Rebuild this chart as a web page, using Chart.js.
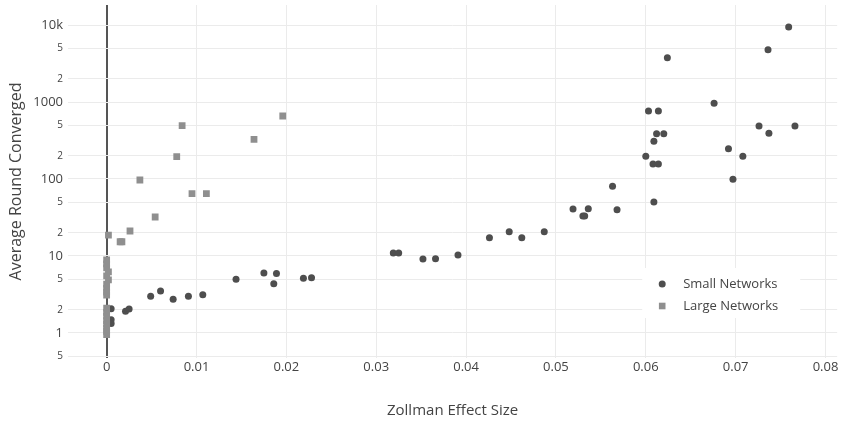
<!DOCTYPE html>
<html>
<head>
<meta charset="utf-8">
<script src="https://cdn.jsdelivr.net/npm/chart.js@4/dist/chart.umd.min.js"></script>
<style>
  html, body { margin: 0; padding: 0; background: #fff; }
  #wrap { width: 842px; height: 424px; position: relative; }
</style>
</head>
<body>
<div id="wrap"><canvas id="chart"></canvas></div>
<script>
// Small networks (circles)
var smallX = [0.0005, 0.0005, 0.0005, 0.0021, 0.0025, 0.0049, 0.0060, 0.0074, 0.0091, 0.0107,
  0.0144, 0.0175, 0.0189, 0.0186, 0.0219, 0.0228, 0.0319, 0.0325, 0.0352, 0.0366,
  0.0391, 0.0426, 0.0448, 0.0462, 0.0487, 0.0519, 0.0530, 0.0532, 0.0536, 0.0563,
  0.0568, 0.0609, 0.0697, 0.0759, 0.0736, 0.0624, 0.0676, 0.0603, 0.0614, 0.0726,
  0.0766, 0.0737, 0.0612, 0.0620, 0.0609, 0.0692, 0.0600, 0.0708, 0.0608, 0.0614];
var smallY = [2.07, 1.48, 1.33, 1.91, 2.05, 3.0, 3.5, 2.74, 3.0, 3.14,
  5.0, 6.0, 5.9, 4.37, 5.13, 5.22, 10.9, 10.9, 9.14, 9.2,
  10.3, 17.3, 20.7, 17.3, 20.7, 40.8, 33, 33, 41.2, 80.4,
  39.9, 50.3, 99, 9420, 4780, 3760, 962, 764, 764, 488,
  488, 392, 387, 387, 309, 248, 197, 197, 157, 157];

// Large networks (squares)
var largeX = [0.0084, 0.0196, 0.0164, 0.0078, 0.0037, 0.0095, 0.0111, 0.0054, 0.0026, 0.0015,
  0.0017, 0.0002, 0, 0, 0, 0.0002, 0, 0.0002, 0, 0,
  0, 0, 0, 0, 0, 0, 0, 0, 0, 0];
var largeY = [492, 658, 328, 195, 97, 64.4, 64.4, 32.1, 21.1, 15.3,
  15.3, 18.7, 8.9, 7.9, 7.0, 6.2, 5.5, 4.9, 4.3, 3.8,
  3.4, 3.1, 2.1, 1.85, 1.65, 1.45, 1.3, 1.15, 1.05, 0.95];

var xTicks = [0, 0.01, 0.02, 0.03, 0.04, 0.05, 0.06, 0.07, 0.08];
var xTickLabels = ['0', '0.01', '0.02', '0.03', '0.04', '0.05', '0.06', '0.07', '0.08'];
var yTicks = [0.5, 1, 2, 5, 10, 20, 50, 100, 200, 500, 1000, 2000, 5000, 10000];
var yTickLabels = ['5', '1', '2', '5', '10', '2', '5', '100', '2', '5', '1000', '2', '5', '10k'];

var legendNames = ['Small Networks', 'Large Networks'];
var smallColor = '#4e4e4e';
var largeColor = '#8f8f8f';

function toPoints(xs, ys) {
  return xs.map(function (x, i) { return { x: x, y: ys[i] }; });
}

var insideLegend = {
  id: 'insideLegend',
  afterDraw: function (chart) {
    var ctx = chart.ctx;
    var a = chart.chartArea;
    var left = a.right - 195;
    var top = 268;
    ctx.save();
    ctx.fillStyle = '#fff';
    ctx.fillRect(left, top, 158, 50);
    // circle
    ctx.fillStyle = smallColor;
    ctx.beginPath();
    ctx.arc(left + 20, top + 16, 3.5, 0, Math.PI * 2);
    ctx.fill();
    // square
    ctx.fillStyle = largeColor;
    ctx.fillRect(left + 20 - 3.3, top + 38 - 3.3, 6.6, 6.6);
    ctx.fillStyle = '#444';
    ctx.font = '13px "Open Sans"';
    ctx.textBaseline = 'middle';
    ctx.fillText(legendNames[0], left + 41, top + 16);
    ctx.fillText(legendNames[1], left + 41, top + 38);
    ctx.restore();
  }
};

new Chart(document.getElementById('chart'), {
  type: 'scatter',
  data: {
    datasets: [
      {
        label: legendNames[0],
        data: toPoints(smallX, smallY),
        pointStyle: 'circle',
        pointRadius: 3.5,
        pointBorderWidth: 0,
        backgroundColor: smallColor,
        borderColor: smallColor,
        order: 2
      },
      {
        label: legendNames[1],
        data: toPoints(largeX, largeY),
        pointStyle: 'rect',
        pointRadius: 4.8,
        pointBorderWidth: 0,
        backgroundColor: largeColor,
        borderColor: largeColor,
        order: 1
      }
    ]
  },
  options: {
    responsive: true,
    maintainAspectRatio: false,
    animation: false,
    layout: { padding: { top: 5, right: 1, left: 0, bottom: 0 } },
    plugins: {
      legend: { display: false },
      tooltip: { enabled: false }
    },
    scales: {
      x: {
        type: 'linear',
        min: -0.0043,
        max: 0.0813,
        afterBuildTicks: function (scale) {
          scale.ticks = xTicks.map(function (v) { return { value: v }; });
        },
        afterFit: function (scale) {
          scale.height = 66;
          scale.paddingLeft = 0;
          scale.paddingRight = 0;
        },
        border: { display: false },
        grid: {
          drawTicks: false,
          color: function (ctx) { return ctx.tick && ctx.tick.value === 0 ? '#555' : '#ebebeb'; },
          lineWidth: function (ctx) { return ctx.tick && ctx.tick.value === 0 ? 2 : 1; }
        },
        ticks: {
          padding: 1,
          color: '#444',
          font: { family: 'Open Sans', size: 13 },
          callback: function (value) {
            var i = xTicks.indexOf(value);
            return i >= 0 ? xTickLabels[i] : '';
          }
        },
        title: {
          display: true,
          text: 'Zollman Effect Size',
          color: '#444',
          font: { family: 'Open Sans', size: 15 },
          padding: { top: 0, bottom: 4 }
        }
      },
      y: {
        type: 'logarithmic',
        min: 0.473,
        max: 18200,
        afterBuildTicks: function (scale) {
          scale.ticks = yTicks.map(function (v) { return { value: v }; });
        },
        afterFit: function (scale) {
          scale.width = 68;
          scale.paddingTop = 0;
          scale.paddingBottom = 0;
        },
        border: { display: false },
        grid: { drawTicks: false, color: '#ebebeb', lineWidth: 1 },
        ticks: {
          padding: 5,
          color: '#444',
          autoSkip: false,
          font: function (ctx) {
            var i = yTicks.indexOf(ctx.tick ? ctx.tick.value : -1);
            var big = i >= 0 && yTickLabels[i] !== '2' && yTickLabels[i] !== '5';
            return { family: 'Open Sans', size: big ? 13 : 10 };
          },
          callback: function (value) {
            var i = yTicks.indexOf(value);
            return i >= 0 ? yTickLabels[i] : '';
          }
        },
        title: {
          display: true,
          text: 'Average Round Converged',
          color: '#444',
          font: { family: 'Open Sans', size: 16 },
          padding: { top: 7, bottom: 0 }
        }
      }
    }
  },
  plugins: [insideLegend]
});
</script>
</body>
</html>
